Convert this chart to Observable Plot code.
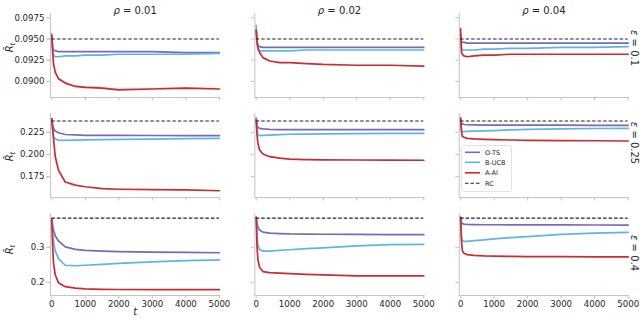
<!DOCTYPE html>
<html><head><meta charset="utf-8">
<script src="https://cdn.jsdelivr.net/npm/d3@7"></script>
<script src="https://cdn.jsdelivr.net/npm/@observablehq/plot@0.6"></script>
<style>
body{margin:0;background:#fff;}
#chart{position:relative;width:640px;height:318px;font-family:"DejaVu Sans",sans-serif;}
#chart svg{display:block;}
#legend{position:absolute;left:461px;top:145px;}
</style></head><body><div id="chart"></div>
<script>
// ---- data ----
const rhoKeys = ["0.01", "0.02", "0.04"];
const epsKeys = ["0.1", "0.25", "0.4"];
const methods = ["O-TS", "B-UCB", "A-AI"];
const methodColors = ["#7a68bc", "#5cb6e1", "#cd2b33"];
const rcName = "RC";
const yLabelText = "R\u0303t";
const tSteps = [0, 25, 50, 100, 200, 400, 700, 1000, 1500, 2000, 3000, 4000, 5000];
const xTicks = [0, 1000, 2000, 3000, 4000, 5000];

// eps = 0.1
const otsE1R1 = [0.0953,0.0940,0.0937,0.0936,0.0935,0.0935,0.0935,0.0935,0.0935,0.0935,0.0935,0.0934,0.0934];
const ucbE1R1 = [0.0956,0.0935,0.0931,0.0929,0.0929,0.0930,0.0930,0.0931,0.0931,0.0932,0.0932,0.0932,0.0933];
const aaiE1R1 = [0.0954,0.0935,0.0921,0.0911,0.0903,0.0898,0.0894,0.0893,0.0892,0.0890,0.0891,0.0892,0.0891];
const aaiBandE1R1 = [0,0.00010,0.00012,0.00013,0.00013,0.00013,0.00012,0.00012,0.00011,0.00010,0.00009,0.00008,0.00008];
const otsE1R2 = [0.0960,0.0945,0.0942,0.0941,0.0940,0.0940,0.0940,0.0940,0.0940,0.0940,0.0940,0.0940,0.0940];
const ucbE1R2 = [0.0966,0.0945,0.0938,0.0936,0.0936,0.0936,0.0936,0.0936,0.0937,0.0937,0.0937,0.0937,0.0937];
const aaiE1R2 = [0.0960,0.0948,0.0940,0.0934,0.0928,0.0924,0.0922,0.0922,0.0921,0.0920,0.0919,0.0919,0.0918];
const otsE1R4 = [0.0955,0.0947,0.0946,0.0946,0.0945,0.0945,0.0945,0.0945,0.0945,0.0945,0.0945,0.0945,0.0945];
const ucbE1R4 = [0.0950,0.0940,0.0937,0.0937,0.0937,0.0937,0.0938,0.0938,0.0939,0.0939,0.0940,0.0940,0.0941];
const aaiE1R4 = [0.0962,0.0935,0.0932,0.0930,0.0929,0.0930,0.0931,0.0931,0.0932,0.0932,0.0932,0.0932,0.0932];

// eps = 0.25
const otsE2R1 = [0.2400,0.2320,0.2290,0.2265,0.2245,0.2225,0.2220,0.2216,0.2215,0.2215,0.2214,0.2213,0.2212];
const ucbE2R1 = [0.2380,0.2260,0.2200,0.2175,0.2162,0.2159,0.2161,0.2164,0.2167,0.2170,0.2174,0.2178,0.2182];
const aaiE2R1 = [0.2405,0.2300,0.2180,0.1980,0.1820,0.1690,0.1655,0.1636,0.1614,0.1608,0.1604,0.1600,0.1591];
const otsE2R2 = [0.2410,0.2330,0.2305,0.2295,0.2288,0.2283,0.2281,0.2280,0.2280,0.2280,0.2280,0.2280,0.2280];
const ucbE2R2 = [0.2410,0.2280,0.2215,0.2213,0.2215,0.2219,0.2223,0.2228,0.2230,0.2232,0.2235,0.2237,0.2239];
const aaiE2R2 = [0.2390,0.2220,0.2130,0.2050,0.2005,0.1975,0.1958,0.1948,0.1942,0.1940,0.1938,0.1937,0.1935];
const otsE2R4 = [0.2410,0.2360,0.2345,0.2338,0.2335,0.2333,0.2332,0.2331,0.2331,0.2330,0.2330,0.2329,0.2329];
const ucbE2R4 = [0.2345,0.2280,0.2258,0.2258,0.2260,0.2263,0.2266,0.2270,0.2277,0.2284,0.2289,0.2293,0.2295];
const aaiE2R4 = [0.2408,0.2260,0.2205,0.2195,0.2182,0.2175,0.2170,0.2167,0.2163,0.2160,0.2157,0.2155,0.2152];

// eps = 0.4
const otsE3R1 = [0.380,0.362,0.350,0.333,0.318,0.301,0.294,0.291,0.289,0.2875,0.2865,0.2855,0.2845];
const ucbE3R1 = [0.380,0.340,0.315,0.290,0.268,0.249,0.2475,0.249,0.2515,0.2545,0.2585,0.262,0.2645];
const aaiE3R1 = [0.380,0.300,0.255,0.222,0.199,0.188,0.184,0.182,0.1805,0.180,0.1795,0.1795,0.1795];
const otsE3R2 = [0.385,0.368,0.358,0.349,0.343,0.340,0.339,0.338,0.3375,0.337,0.3365,0.336,0.3358];
const ucbE3R2 = [0.385,0.330,0.305,0.294,0.289,0.289,0.2915,0.293,0.296,0.2985,0.304,0.3075,0.3085];
const aaiE3R2 = [0.385,0.300,0.265,0.243,0.231,0.228,0.2265,0.225,0.223,0.2215,0.219,0.219,0.219];
const otsE3R4 = [0.385,0.370,0.367,0.366,0.3652,0.3645,0.364,0.364,0.3638,0.3636,0.3634,0.3633,0.3632];
const ucbE3R4 = [0.380,0.330,0.319,0.317,0.317,0.319,0.3208,0.324,0.3275,0.3305,0.3365,0.3405,0.3425];
const aaiE3R4 = [0.385,0.320,0.2906,0.283,0.2792,0.277,0.2755,0.275,0.2743,0.2737,0.2732,0.2728,0.2726];

const rcValues = [0.0950, 0.2378, 0.3830];
const yTicksE1 = [0.0900, 0.0925, 0.0950, 0.0975];
const yTicksE2 = [0.175, 0.200, 0.225];
const yTicksE3 = [0.2, 0.3];
const yFormats = [".4f", ".3f", ".1f"];
const yDomains = [[0.0881, 0.0980], [0.1515, 0.2462], [0.163, 0.396]];

// ---- build ----
const series = [
  [[otsE1R1, ucbE1R1, aaiE1R1], [otsE1R2, ucbE1R2, aaiE1R2], [otsE1R4, ucbE1R4, aaiE1R4]],
  [[otsE2R1, ucbE2R1, aaiE2R1], [otsE2R2, ucbE2R2, aaiE2R2], [otsE2R4, ucbE2R4, aaiE2R4]],
  [[otsE3R1, ucbE3R1, aaiE3R1], [otsE3R2, ucbE3R2, aaiE3R2], [otsE3R4, ucbE3R4, aaiE3R4]]
];
const yTicks = [yTicksE1, yTicksE2, yTicksE3];
const epsDy = [-7.5, -12.5, -1.5];
const ylabDy = [-8, 1, -5];
const spine = "#c4c4c4";
const ink = "#262626";

function rowPlot(i) {
  const last = i === 2;
  const data = [];
  rhoKeys.forEach((rho, j) => methods.forEach((m, k) => tSteps.forEach((t, n) =>
    data.push({rho, method: m, t, v: series[i][j][k][n]}))));
  const rcData = rhoKeys.map(rho => ({rho, v: rcValues[i]}));
  const marks = [
    Plot.frame({anchor: "left", stroke: spine}),
    Plot.frame({anchor: "bottom", stroke: spine}),
    Plot.axisY({ticks: yTicks[i], tickFormat: () => "", facetAnchor: null, tickSize: 3.5, stroke: spine, label: null}),
    Plot.axisY({ticks: yTicks[i], tickFormat: yFormats[i], facetAnchor: "left", tickSize: 3.5, tickPadding: 2.5, stroke: spine, fill: ink, label: null}),
    Plot.axisX({ticks: xTicks, tickFormat: last ? "d" : () => "", tickSize: 3.5, tickPadding: 1.5, stroke: spine, fill: ink, label: null})
  ];
  if (i === 0) {
    const band = tSteps.map((t, n) => ({rho: rhoKeys[0], t, lo: aaiE1R1[n] - aaiBandE1R1[n], hi: aaiE1R1[n] + aaiBandE1R1[n]}));
    marks.push(Plot.areaY(band, {x: "t", y1: "lo", y2: "hi", fx: "rho", fill: methodColors[2], fillOpacity: 0.2}));
    marks.push(Plot.text(rhoKeys, {fx: d => d, text: d => "\u03C1 = " + d, frameAnchor: "top", textAnchor: "middle", dy: -7, fontSize: 10, fill: ink}));
  }
  marks.push(
    Plot.line(data, {x: "t", y: "v", z: "method", stroke: "method", fx: "rho", strokeWidth: 1.7}),
    Plot.ruleY(rcData, {y: "v", fx: "rho", x1: tSteps[0], x2: tSteps[tSteps.length - 1], stroke: "#222", strokeWidth: 1.1, strokeDasharray: "3.5,2"}),
    Plot.text([epsKeys[i]], {fx: () => rhoKeys[2], text: d => "\u03B5 = " + d, frameAnchor: "right", textAnchor: "middle", rotate: 90, dx: 5.5, dy: epsDy[i], fontSize: 10, fill: ink}),
    Plot.text([yLabelText], {fx: () => rhoKeys[0], text: d => d, frameAnchor: "left", textAnchor: "middle", rotate: -90, dx: -41, dy: ylabDy[i], fontSize: 10, fontStyle: "italic", fill: ink})
  );
  if (last) {
    marks.push(Plot.text(["t"], {fx: () => rhoKeys[0], text: d => d, frameAnchor: "bottom", textAnchor: "middle", dy: 19, fontSize: 10, fontStyle: "italic", fill: ink}));
  }
  return Plot.plot({
    width: 640, height: last ? 118 : 100,
    marginLeft: 50, marginRight: 12, marginTop: 13, marginBottom: last ? 23 : 3,
    style: {fontFamily: "DejaVu Sans", fontSize: "8.6px", color: ink, background: "#fff", overflow: "visible"},
    fx: {domain: rhoKeys, paddingInner: 0.172, paddingOuter: 0, axis: null, round: false, label: null},
    x: {domain: [-40, 5010], axis: null},
    y: {domain: yDomains[i], axis: null},
    color: {domain: methods, range: methodColors},
    marks
  });
}

const chart = document.getElementById("chart");
for (let i = 0; i < 3; i++) {
  const svg = rowPlot(i);
  d3.select(svg).selectAll("text").each(function() {
    const s = this.textContent;
    if (s === yLabelText) {
      this.textContent = "";
      d3.select(this).append("tspan").text("R\u0303");
      d3.select(this).append("tspan").attr("font-size", 7).attr("dy", 2).text("t");
    } else if (s.startsWith("\u03C1 = ") || s.startsWith("\u03B5 = ")) {
      this.textContent = "";
      d3.select(this).append("tspan").attr("font-style", "italic").text(s[0]);
      d3.select(this).append("tspan").text(s.slice(1));
    }
  });
  chart.appendChild(svg);
}

// legend
const leg = d3.select(chart).append("svg").attr("id", "legend").attr("width", 52).attr("height", 48);
leg.append("rect").attr("x", 0.5).attr("y", 0.5).attr("width", 50).attr("height", 46).attr("rx", 2)
  .attr("fill", "#fff").attr("fill-opacity", 0.85).attr("stroke", "#dcdcdc").attr("stroke-width", 0.8);
const legItems = methods.map((m, k) => ({name: m, color: methodColors[k], dash: null})).concat([{name: rcName, color: "#222", dash: "3.5,2"}]);
const legY = [7.3, 17.3, 27.8, 38.3];
legItems.forEach((d, k) => {
  leg.append("line").attr("x1", 4).attr("x2", 19).attr("y1", legY[k]).attr("y2", legY[k])
    .attr("stroke", d.color).attr("stroke-width", d.dash ? 1.1 : 1.6).attr("stroke-dasharray", d.dash);
  leg.append("text").attr("x", 24).attr("y", legY[k]).attr("dy", "0.35em")
    .attr("font-family", "DejaVu Sans").attr("font-size", 6.5).attr("fill", ink).text(d.name);
});
</script>
</body></html>
